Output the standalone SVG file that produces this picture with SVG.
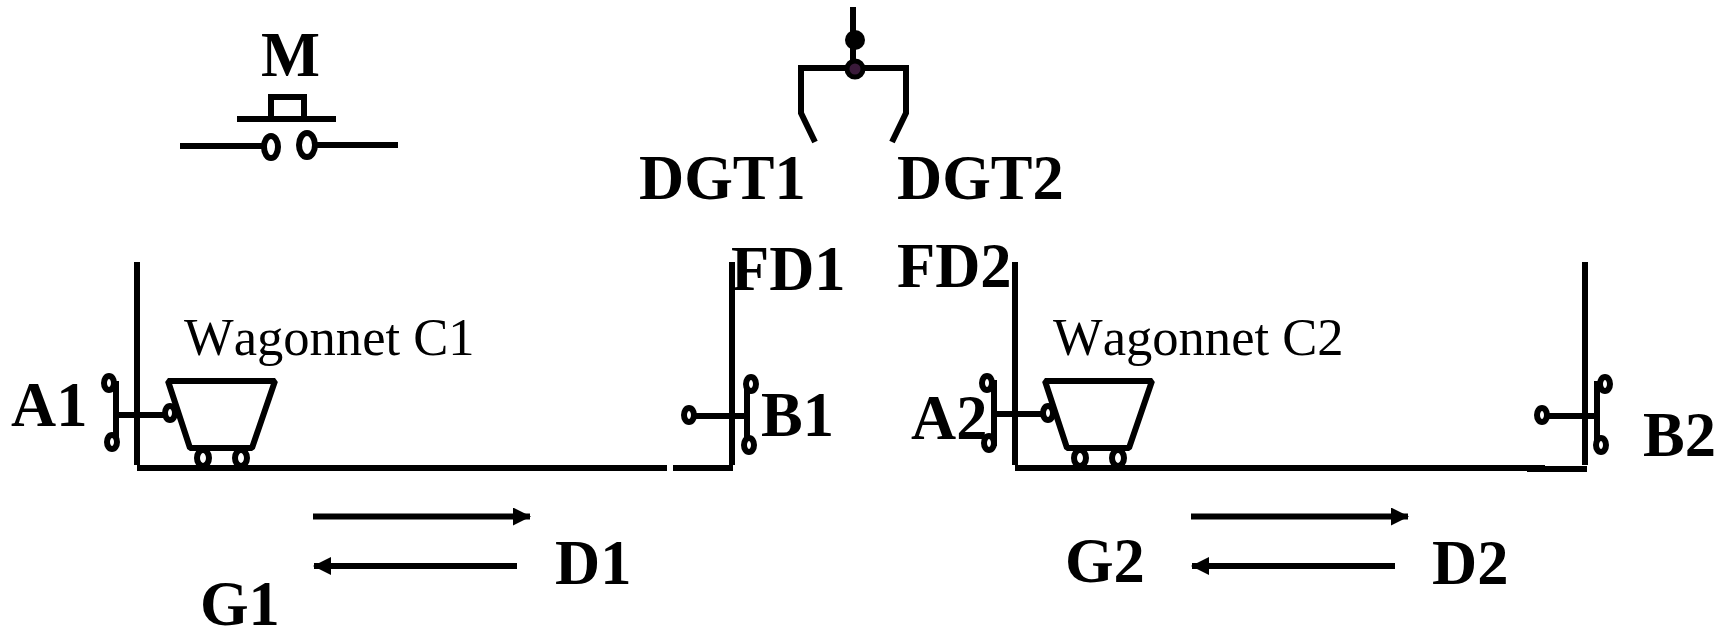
<svg xmlns="http://www.w3.org/2000/svg" width="1726" height="630" viewBox="0 0 1726 630">
<defs>
<style>
.l{fill:none;stroke:#000;stroke-width:6}
.a{fill:none;stroke:#000;stroke-width:6}
.o{fill:#fff;stroke:#000;stroke-width:6}
text{font-kerning:none;fill:#000;font-family:"Liberation Serif",serif}
.b{font-weight:bold;font-size:62.5px}
.w{font-size:52.6px}
</style>
<marker id="ah" markerUnits="userSpaceOnUse" markerWidth="18" markerHeight="18" refX="17" refY="9" orient="auto"><path d="M0 0L18 9L0 18Z" fill="#000"/></marker>
<g id="cart"><path class="l" d="M168 381H275L252 448H190Z" stroke-linejoin="bevel"/><ellipse class="o" cx="203" cy="458" rx="6" ry="8"/><ellipse class="o" cx="241" cy="458" rx="6" ry="8"/></g>
</defs>
<rect width="1726" height="630" fill="#fff"/>
<g id="connectors">
<path class="a" marker-end="url(#ah)" d="M313 516.5H530"/>
<path class="a" marker-end="url(#ah)" d="M517 566H314"/>
<path class="a" marker-end="url(#ah)" d="M1191 516.5H1408"/>
<path class="a" marker-end="url(#ah)" d="M1395 566H1192"/>
</g>
<g id="tracks">
<path class="l" d="M137 262V465M137 468H667M673 468H733M732 262V465"/>
<path class="l" d="M1015 262V465M1015 468H1545M1527 469H1587M1585 262V465"/>
</g>
<g id="M">
<path class="l" d="M237 119H336M271 119V97H304V119M180 146H265M313 145H398"/>
<ellipse class="o" cx="271" cy="147" rx="7" ry="11"/><ellipse class="o" cx="307" cy="145" rx="8" ry="12"/>
<text class="b" x="261" y="76">M</text>
</g>
<g id="gripper">
<path class="l" d="M853 7V60M815 142L801 113V68H906V113L892 142"/>
<circle cx="855" cy="40" r="10" fill="#000"/>
<circle cx="855" cy="69" r="8" fill="#3a1a3a" stroke="#000" stroke-width="5"/>
<text class="b" x="639" y="199">DGT1</text>
<text class="b" x="897" y="199">DGT2</text>
</g>
<g id="FD1"><text class="b" x="731" y="290">FD1</text></g>
<g id="FD2"><text class="b" x="897" y="287">FD2</text></g>
<g id="C1"><use href="#cart"/><text class="w" x="184" y="355">Wagonnet C1</text></g>
<g id="C2"><use href="#cart" x="877"/><text class="w" x="1053" y="355">Wagonnet C2</text></g>
<g id="A1">
<path class="l" d="M110 384H116V442H112M116 415H165"/>
<ellipse class="o" cx="109" cy="383" rx="5" ry="7"/><ellipse class="o" cx="112" cy="442" rx="5" ry="7"/><ellipse class="o" cx="170" cy="413" rx="5" ry="7"/>
<text class="b" x="11" y="426">A1</text>
</g>
<g id="B1">
<path class="l" d="M751 384H747V445H749M695 416H747"/>
<ellipse class="o" cx="751" cy="384" rx="5" ry="7"/><ellipse class="o" cx="749" cy="445" rx="5" ry="7"/><ellipse class="o" cx="689" cy="415" rx="5" ry="7"/>
<text class="b" x="761" y="436">B1</text>
</g>
<g id="A2">
<text class="b" x="911" y="439">A2</text>
<path class="l" d="M987 383H994V443H989M994 414H1045"/>
<ellipse class="o" cx="987" cy="383" rx="5" ry="7"/><ellipse class="o" cx="989" cy="443" rx="5" ry="7"/><ellipse class="o" cx="1048" cy="413" rx="5" ry="7"/>
</g>
<g id="B2">
<path class="l" d="M1605 384H1597V445H1601M1548 416H1597"/>
<ellipse class="o" cx="1605" cy="384" rx="5" ry="7"/><ellipse class="o" cx="1601" cy="445" rx="5" ry="7"/><ellipse class="o" cx="1542" cy="415" rx="5" ry="7"/>
<text class="b" x="1643" y="456">B2</text>
</g>
<g id="D1"><text class="b" x="555" y="584">D1</text></g>
<g id="G1"><text class="b" x="200" y="625">G1</text></g>
<g id="D2"><text class="b" x="1432" y="584">D2</text></g>
<g id="G2"><text class="b" x="1065" y="582">G2</text></g>
</svg>
